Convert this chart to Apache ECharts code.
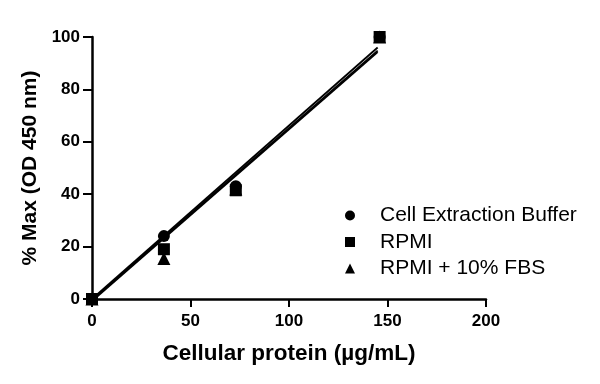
<!DOCTYPE html>
<html><head><meta charset="utf-8">
<script src="https://cdn.jsdelivr.net/npm/echarts@6/dist/echarts.min.js"></script>
<style>html,body{margin:0;padding:0;background:#fff}#c{width:600px;height:384px}</style>
</head><body><div id="c"></div>
<script>
const protein = [0, 36.5, 73, 146];
const cellExtraction = [0, 24, 43, 100];
const rpmi = [0, 19, 41.5, 100];
const rpmiFbs = [0, 15.5, 42, 100];
const fitCEB = [[0, 0], [145, 96]];
const fitRPMI = [[0, -0.4], [145, 94.8]];
const fitFBS = [[0, -0.8], [145, 94.2]];
const seriesNames = ['Cell Extraction Buffer', 'RPMI', 'RPMI + 10% FBS'];
const xTicks = [0, 50, 100, 150, 200];
const yTicks = [0, 20, 40, 60, 80, 100];

const pts = v => protein.map((x, i) => [x, v[i]]);
const font = 'Liberation Sans, Arial, sans-serif';
const chart = echarts.init(document.getElementById('c'));
const lineS = d => ({type: 'line', data: d, symbol: 'none', lineStyle: {color: '#000', width: 1.8}, z: 2, clip: false, silent: true});
chart.setOption({
  animation: false,
  grid: {left: 92, right: 114, top: 37, bottom: 85},
  legend: {
    data: seriesNames, orient: 'vertical', left: 340, top: 200, itemGap: 5.5,
    itemWidth: 10, itemHeight: 10,
    textStyle: {fontFamily: font, fontSize: 21, color: '#000', lineHeight: 21, padding: [0, 0, 0, 20]}
  },
  xAxis: {
    type: 'value', min: xTicks[0], max: xTicks[xTicks.length - 1], interval: 50,
    name: 'Cellular protein (µg/mL)', nameLocation: 'middle', nameGap: 43,
    nameTextStyle: {fontFamily: font, fontWeight: 'bold', fontSize: 22.5, color: '#000'},
    axisLine: {lineStyle: {color: '#000', width: 2.5}},
    axisTick: {length: 8, lineStyle: {color: '#000', width: 2}},
    axisLabel: {fontFamily: font, fontWeight: 'bold', fontSize: 17, color: '#000', margin: 14},
    splitLine: {show: false}
  },
  yAxis: {
    type: 'value', min: yTicks[0], max: yTicks[yTicks.length - 1], interval: 20,
    name: '% Max (OD 450 nm)', nameLocation: 'middle', nameGap: 48, nameRotate: 90,
    nameTextStyle: {fontFamily: font, fontWeight: 'bold', fontSize: 21, color: '#000'},
    axisLine: {lineStyle: {color: '#000', width: 2.5}},
    axisTick: {length: 9, lineStyle: {color: '#000', width: 2}},
    axisLabel: {fontFamily: font, fontWeight: 'bold', fontSize: 17, color: '#000', margin: 12},
    splitLine: {show: false}
  },
  series: [
    lineS(fitCEB), lineS(fitRPMI), lineS(fitFBS),
    {name: seriesNames[2], type: 'scatter', data: pts(rpmiFbs), symbol: 'triangle', symbolSize: 13, itemStyle: {color: '#000', opacity: 1}, z: 3, clip: false},
    {name: seriesNames[0], type: 'scatter', data: pts(cellExtraction), symbol: 'circle', symbolSize: 12, itemStyle: {color: '#000', opacity: 1}, z: 4, clip: false},
    {name: seriesNames[1], type: 'scatter', data: pts(rpmi), symbol: 'rect', symbolSize: 12, itemStyle: {color: '#000', opacity: 1}, z: 5, clip: false}
  ]
});
</script></body></html>
